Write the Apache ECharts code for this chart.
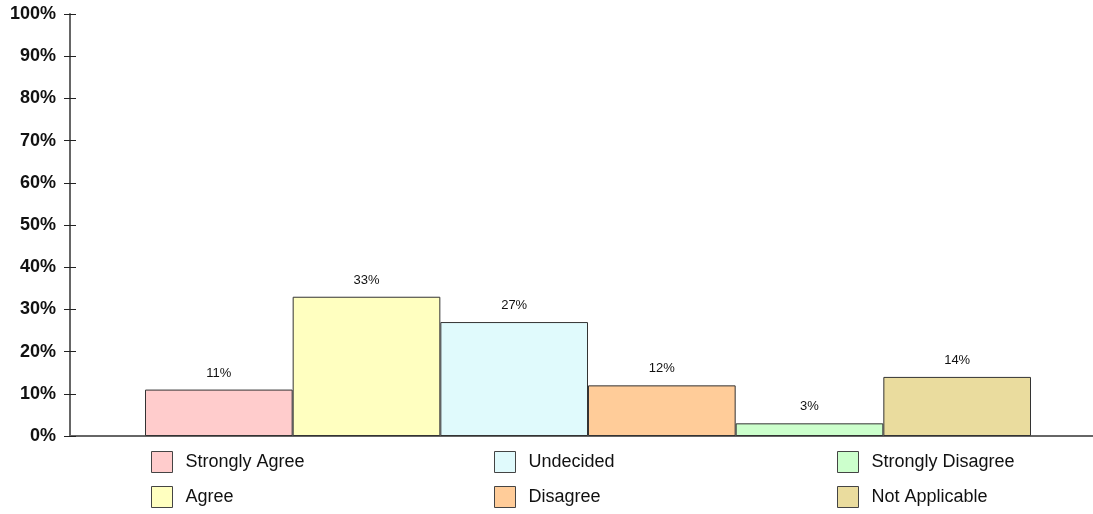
<!DOCTYPE html>
<html>
<head>
<meta charset="utf-8">
<title>Survey responses</title>
<script src="https://cdn.jsdelivr.net/npm/echarts@6/dist/echarts.min.js"></script>
<style>
  html, body { margin: 0; padding: 0; background: #fff; }
  #chart { width: 1093px; height: 514px; }
</style>
</head>
<body>
<div id="chart"></div>
<script>
const categories = ['Strongly Agree', 'Agree', 'Undecided', 'Disagree', 'Strongly Disagree', 'Not Applicable']
const values = [11, 33, 27, 12, 3, 14]
const yTicks = [0, 10, 20, 30, 40, 50, 60, 70, 80, 90, 100]
const colors = ['#ffcccc', '#ffffc0', '#e0fafc', '#ffcc99', '#ccffcc', '#eadc9e']

const font = 'Liberation Sans, Arial, sans-serif'
const chart = echarts.init(document.getElementById('chart'))

// each answer gets its own series so the legend lists it, stacked so bars fill their slot
const series = categories.map((name, i) => ({
  name,
  type: 'bar',
  xAxisIndex: 1,
  yAxisIndex: 2,
  stack: 'all',
  barWidth: '100%',
  data: categories.map((_, j) => (j === i ? values[i] : '-')),
  itemStyle: { color: colors[i], borderColor: '#333', borderWidth: 1 },
  label: {
    show: true,
    position: 'top',
    distance: 10,
    formatter: '{c}%',
    color: '#111',
    fontSize: 13,
    fontFamily: font,
  },
}))

// legend is 3 columns x 2 rows, filled column first
const legendLeft = [151, 151, 494, 494, 837, 837]
const legendTop = [451, 486, 451, 486, 451, 486]
const legends = categories.map((name, i) => ({
  left: legendLeft[i],
  top: legendTop[i],
  padding: 0,
  itemWidth: 21,
  itemHeight: 21,
  icon: 'rect',
  data: [name],
  selectedMode: false,
  itemStyle: { borderColor: '#444', borderWidth: 1 },
  textStyle: { fontSize: 18, color: '#111', fontFamily: font, padding: [0, 0, 0, 8] },
}))

chart.setOption({
  animation: false,
  backgroundColor: '#fff',
  grid: [
    { left: 70, right: 0, top: 14, bottom: 78 },
    { left: 145, right: 62, top: 14, bottom: 78 },
  ],
  legend: legends,
  xAxis: [
    {
      gridIndex: 0,
      type: 'value',
      min: 0,
      max: 1,
      axisLine: { show: true, onZero: false, lineStyle: { color: '#666', width: 2 } },
      axisTick: { show: false },
      axisLabel: { show: false },
      splitLine: { show: false },
    },
    { gridIndex: 1, type: 'category', data: categories, show: false },
  ],
  yAxis: [
    {
      gridIndex: 0,
      type: 'value',
      min: yTicks[0],
      max: yTicks[yTicks.length - 1],
      interval: 10,
      axisLine: { show: true, lineStyle: { color: '#666', width: 2 } },
      axisTick: { show: true, length: 6, lineStyle: { color: '#222' } },
      axisLabel: {
        margin: 14,
        formatter: '{value}%',
        color: '#111',
        fontSize: 18,
        fontWeight: 'bold',
        fontFamily: font,
      },
      splitLine: { show: false },
    },
    {
      gridIndex: 0,
      type: 'value',
      position: 'left',
      min: 0,
      max: 100,
      interval: 10,
      axisLine: { show: false },
      axisTick: { show: true, inside: true, length: 6, lineStyle: { color: '#222' } },
      axisLabel: { show: false },
      splitLine: { show: false },
    },
    { gridIndex: 1, type: 'value', min: 0, max: 100, show: false },
  ],
  series,
})
</script>
</body>
</html>
